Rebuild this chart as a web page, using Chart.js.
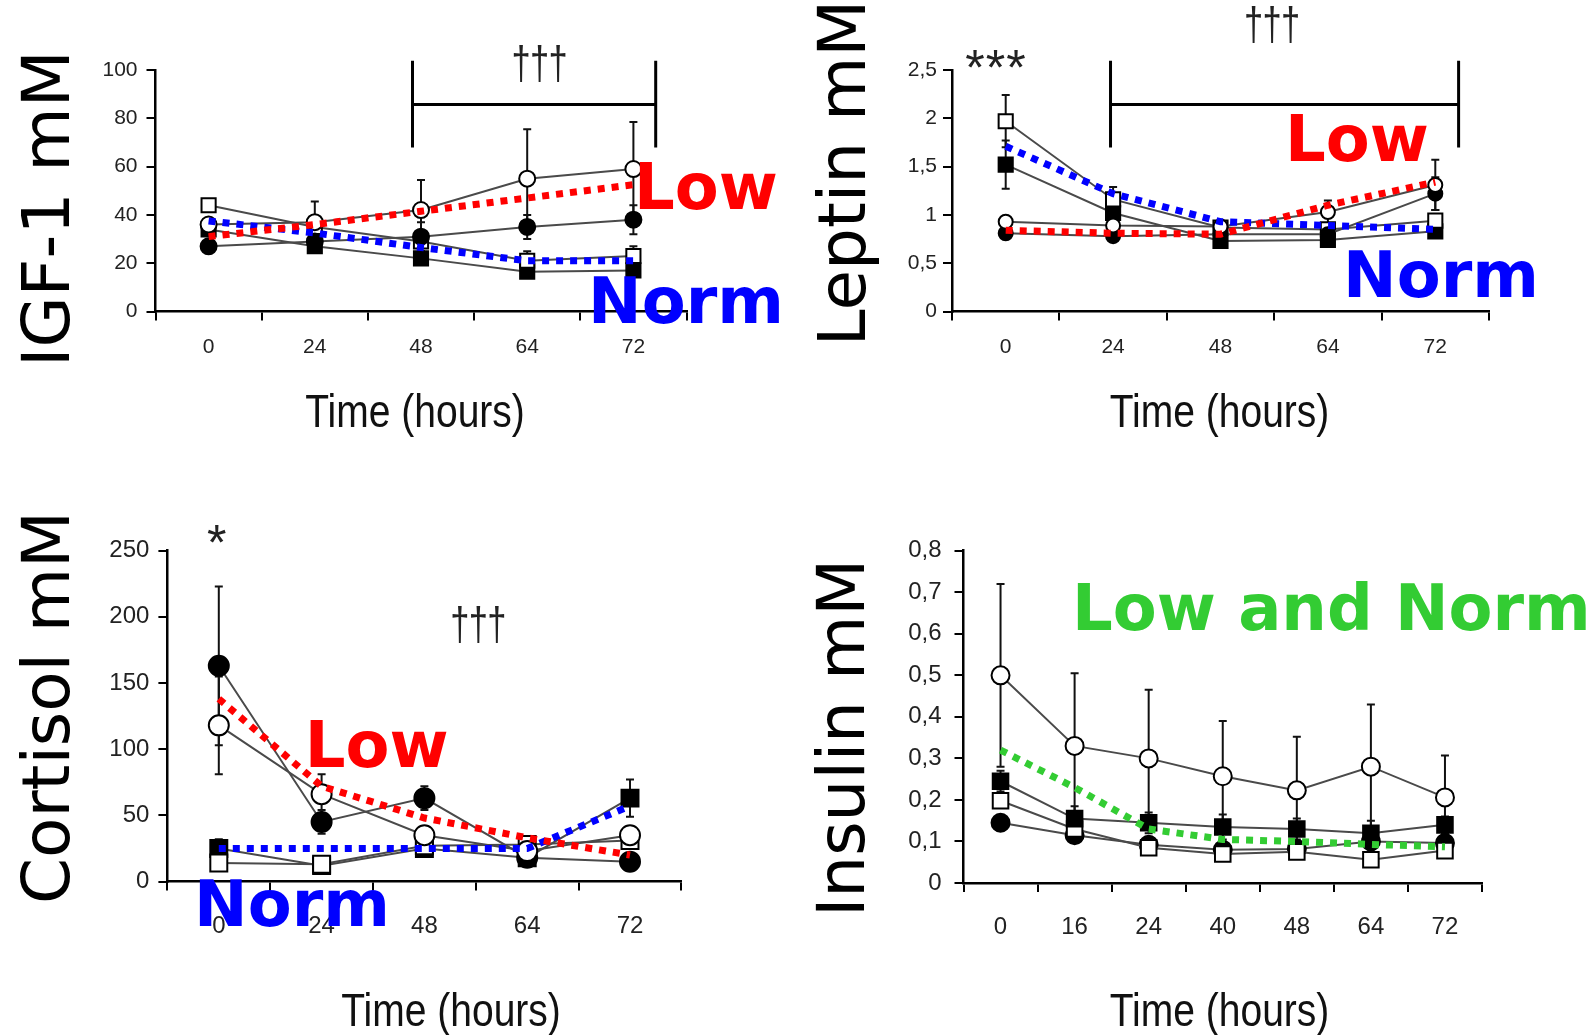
<!DOCTYPE html>
<html>
<head>
<meta charset="utf-8">
<script src="https://cdn.jsdelivr.net/npm/chart.js@4.4.1/dist/chart.umd.min.js"></script>
<style>
  html, body { margin: 0; padding: 0; background: #fff; }
  #page { position: relative; width: 1596px; height: 1035px; overflow: hidden; background: #fff; }
  #page canvas { position: absolute; left: 0; top: 0; }
</style>
</head>
<body>
<div id="page">
  <canvas id="igf" width="1596" height="1035"></canvas>
  <canvas id="leptin" width="1596" height="1035"></canvas>
  <canvas id="cortisol" width="1596" height="1035"></canvas>
  <canvas id="insulin" width="1596" height="1035"></canvas>
</div>
<script>
// valores (mM)
const hoursA = ['0', '24', '48', '64', '72'];
const hoursB = ['0', '16', '24', '40', '48', '64', '72'];

// IGF-1
const igfOpenCircle = [36, 37, 42, 55, 59];
const igfOpenCircleErr = [0, 8.5, 12.5, 20.5, 19.5];
const igfFilledCircle = [27, 29, 31, 35, 38];
const igfFilledCircleErr = [0, 0, 6, 5, 6];
const igfOpenSquare = [44, 35, 29, 21, 23];
const igfOpenSquareErr = [0, 0, 0, 4, 4];
const igfFilledSquare = [34, 27, 22, 16.5, 17];
const igfLow = [31, 36, 41.5, 47, 52.5];
const igfNorm = [37.5, 32.5, 26.5, 21, 21];

// Leptin
const lepOpenCircle = [0.93, 0.89, 0.88, 1.03, 1.31];
const lepOpenCircleErr = [0.05, 0, 0, 0.12, 0.26];
const lepFilledCircle = [0.81, 0.78, 0.80, 0.80, 1.22];
const lepFilledCircleErr = [0, 0, 0, 0, 0.17];
const lepOpenSquare = [1.97, 1.16, 0.87, 0.85, 0.94];
const lepOpenSquareErr = [0.27, 0.13, 0, 0, 0];
const lepFilledSquare = [1.52, 1.02, 0.73, 0.74, 0.83];
const lepFilledSquareErr = [0.25, 0.05, 0, 0, 0];
const lepLow = [0.84, 0.81, 0.80, 1.10, 1.34];
const lepNorm = [1.71, 1.22, 0.93, 0.89, 0.85];

// Cortisol
const corOpenCircle = [118, 66, 35, 23, 35];
const corOpenCircleErr = [37, 15, 0, 0, 0];
const corFilledCircle = [163, 45, 63, 18, 15];
const corFilledCircleErr = [60, 9, 9, 0, 0];
const corOpenSquare = [14, 13, 27, 28, 31];
const corFilledSquare = [25, 12, 25, 18, 63];
const corFilledSquareErr = [7, 0, 0, 0, 14];
const corLow = [138, 72, 48, 33, 20];
const corNorm = [25, 25, 25, 25, 57];

// Insulin
const insOpenCircle = [0.50, 0.33, 0.30, 0.257, 0.223, 0.28, 0.206];
const insOpenCircleErr = [0.22, 0.175, 0.165, 0.133, 0.129, 0.15, 0.101];
const insFilledSquare = [0.245, 0.155, 0.145, 0.135, 0.13, 0.12, 0.14];
const insFilledSquareErr = [0.025, 0.03, 0.025, 0.03, 0.025, 0.03, 0.02];
const insOpenSquare = [0.198, 0.13, 0.085, 0.07, 0.075, 0.056, 0.078];
const insFilledCircle = [0.145, 0.115, 0.092, 0.08, 0.082, 0.10, 0.096];
const insBoth = [0.32, 0.23, 0.13, 0.105, 0.10, 0.093, 0.087];

const RED = '#ff0000', BLUE = '#0000ff', GREEN = '#33cc33';
const SANS = "'Liberation Sans', Arial, sans-serif";
const Y_W = 120, X_H = 60;

function series(data, errors, filled, shape, radius) {
    return {
        data: data,
        errors: errors,
        borderColor: '#4a4a4a',
        borderWidth: 2,
        pointStyle: shape,
        pointRadius: radius,
        pointBackgroundColor: filled ? '#000' : '#fff',
        pointBorderColor: '#000',
        pointBorderWidth: 2,
        order: 2
    };
}

function trend(data, color) {
    return {
        data: data,
        borderColor: color,
        borderWidth: 7,
        borderDash: [7, 7],
        pointRadius: 0,
        order: 0
    };
}

// barras de erro desenhadas com as escalas do gráfico
const errorBars = {
    id: 'errorBars',
    beforeDatasetsDraw(chart) {
        const ctx = chart.ctx, y = chart.scales.y;
        ctx.save();
        ctx.strokeStyle = '#111';
        ctx.lineWidth = 2;
        chart.data.datasets.forEach((ds, i) => {
            if (!ds.errors) return;
            chart.getDatasetMeta(i).data.forEach((pt, j) => {
                const e = ds.errors[j];
                if (!e) return;
                const top = y.getPixelForValue(ds.data[j] + e);
                const bot = y.getPixelForValue(ds.data[j] - e);
                ctx.beginPath();
                ctx.moveTo(pt.x, top); ctx.lineTo(pt.x, bot);
                ctx.moveTo(pt.x - 4, top); ctx.lineTo(pt.x + 4, top);
                ctx.moveTo(pt.x - 4, bot); ctx.lineTo(pt.x + 4, bot);
                ctx.stroke();
            });
        });
        ctx.restore();
    }
};

// texto condensado (a fonte original é estreita)
function narrowText(ctx, text, x, y, squeeze) {
    ctx.save();
    ctx.translate(x, y);
    ctx.scale(squeeze, 1);
    ctx.fillText(text, 0, 0);
    ctx.restore();
}

// títulos, rótulos Low/Norm, colchetes e símbolos
function notes(cfg) {
    return {
        id: 'notes',
        afterDraw(chart) {
            const ctx = chart.ctx, x = chart.scales.x, y = chart.scales.y;
            ctx.save();
            // título do eixo y (rotacionado)
            ctx.fillStyle = '#000';
            ctx.font = '66px "DejaVu Sans"';
            ctx.textAlign = 'center';
            ctx.textBaseline = 'alphabetic';
            ctx.save();
            ctx.translate(cfg.yTitle[1], cfg.yTitle[2]);
            ctx.rotate(-Math.PI / 2);
            ctx.fillText(cfg.yTitle[0], 0, 0);
            ctx.restore();
            // título do eixo x
            ctx.font = '47px ' + SANS;
            ctx.fillStyle = '#111';
            narrowText(ctx, 'Time (hours)', cfg.xTitle[0], cfg.xTitle[1], 0.83);
            // colchete
            if (cfg.bracket) {
                const b = cfg.bracket;
                const x0 = x.getPixelForValue(b[0]), x1 = x.getPixelForValue(b[1]);
                const yTop = y.getPixelForValue(b[2]), yBot = y.getPixelForValue(b[3]), yBar = y.getPixelForValue(b[4]);
                ctx.strokeStyle = '#000';
                ctx.lineWidth = 3;
                ctx.beginPath();
                ctx.moveTo(x0, yTop); ctx.lineTo(x0, yBot);
                ctx.moveTo(x1, yTop); ctx.lineTo(x1, yBot);
                ctx.moveTo(x0, yBar); ctx.lineTo(x1, yBar);
                ctx.stroke();
            }
            // símbolos † e *
            (cfg.marks || []).forEach(m => {
                ctx.font = m.size + 'px ' + SANS;
                ctx.fillStyle = '#222';
                for (let k = 0; k < m.count; k++) {
                    narrowText(ctx, m.ch, m.x + (k - (m.count - 1) / 2) * m.gap, m.y, m.squeeze);
                }
            });
            // Low / Norm
            ctx.font = 'bold 64px "DejaVu Sans"';
            (cfg.labels || []).forEach(l => {
                ctx.fillStyle = l[1];
                ctx.fillText(l[0], l[2], l[3]);
            });
            ctx.restore();
        }
    };
}

function makeChart(id, cfg) {
    const tickFont = { family: SANS, size: cfg.fontSize };
    return new Chart(document.getElementById(id), {
        type: 'line',
        data: { labels: cfg.labels, datasets: cfg.datasets },
        options: {
            responsive: false,
            animation: false,
            events: [],
            layout: {
                padding: {
                    left: cfg.area[0] - Y_W,
                    top: cfg.area[1],
                    right: 1596 - cfg.area[2],
                    bottom: 1035 - cfg.area[3] - X_H
                }
            },
            plugins: { legend: { display: false }, tooltip: { enabled: false } },
            scales: {
                x: {
                    offset: true,
                    grid: { offset: true, drawOnChartArea: false, tickLength: 9, color: '#000', lineWidth: 2 },
                    border: { color: '#000', width: 2.5 },
                    ticks: { font: tickFont, color: '#222', padding: cfg.xPad, autoSkip: false, maxRotation: 0 },
                    afterFit: s => { s.height = X_H; }
                },
                y: {
                    min: 0,
                    max: cfg.yMax,
                    grid: { drawOnChartArea: false, tickLength: 9, color: '#000', lineWidth: 2 },
                    border: { color: '#000', width: 2.5 },
                    ticks: {
                        stepSize: cfg.yStep,
                        font: tickFont,
                        color: '#222',
                        padding: cfg.yPad,
                        callback: v => v === 0 ? '0' : (Number.isInteger(v) ? String(v) : v.toFixed(1).replace('.', ',').replace(',0', ''))
                    },
                    afterFit: s => { s.width = Y_W; }
                }
            }
        },
        plugins: [errorBars, notes(cfg.notes)]
    });
}

makeChart('igf', {
    labels: hoursA,
    area: [155.5, 70, 686.5, 311.5],
    yMax: 100, yStep: 20, fontSize: 21, xPad: 14, yPad: 9,
    datasets: [
        series(igfOpenCircle, igfOpenCircleErr, false, 'circle', 8),
        series(igfFilledCircle, igfFilledCircleErr, true, 'circle', 8),
        series(igfOpenSquare, igfOpenSquareErr, false, 'rect', 10),
        series(igfFilledSquare, null, true, 'rect', 10),
        trend(igfLow, RED),
        trend(igfNorm, BLUE)
    ],
    notes: {
        yTitle: ['IGF-1 mM', 69, 208.7],
        xTitle: [415, 427],
        bracket: [1.92, 4.21, 103.8, 67.9, 85.7],
        marks: [{ ch: '\u2020', count: 3, gap: 18.5, x: 539.5, y: 79, size: 46, squeeze: 0.75 }],
        labels: [['Low', RED, 706, 208.7], ['Norm', BLUE, 686, 323]]
    }
});

makeChart('leptin', {
    labels: hoursA,
    area: [952, 70, 1489, 311.5],
    yMax: 2.5, yStep: 0.5, fontSize: 21, xPad: 14, yPad: 6,
    datasets: [
        series(lepOpenCircle, lepOpenCircleErr, false, 'circle', 7),
        series(lepFilledCircle, lepFilledCircleErr, true, 'circle', 7),
        series(lepOpenSquare, lepOpenSquareErr, false, 'rect', 10),
        series(lepFilledSquare, lepFilledSquareErr, true, 'rect', 10),
        trend(lepLow, RED),
        trend(lepNorm, BLUE)
    ],
    notes: {
        yTitle: ['Leptin mM', 865, 173],
        xTitle: [1219.5, 427],
        bracket: [0.976, 4.217, 2.595, 1.698, 2.142],
        marks: [
            { ch: '\u2020', count: 3, gap: 18.5, x: 1272, y: 40, size: 46, squeeze: 0.75 },
            { ch: '*', count: 3, gap: 20.5, x: 995.5, y: 85, size: 50, squeeze: 1 }
        ],
        labels: [['Low', RED, 1357, 161], ['Norm', BLUE, 1441, 297]]
    }
});

makeChart('cortisol', {
    labels: hoursA,
    area: [167.4, 550.7, 681.4, 881.5],
    yMax: 250, yStep: 50, fontSize: 24, xPad: 21, yPad: 9,
    datasets: [
        series(corOpenCircle, corOpenCircleErr, false, 'circle', 10),
        series(corFilledCircle, corFilledCircleErr, true, 'circle', 10),
        series(corOpenSquare, null, false, 'rect', 12),
        series(corFilledSquare, corFilledSquareErr, true, 'rect', 12),
        trend(corLow, RED),
        trend(corNorm, BLUE)
    ],
    notes: {
        yTitle: ['Cortisol mM', 69, 707.5],
        xTitle: [451, 1026],
        marks: [
            { ch: '\u2020', count: 3, gap: 18.5, x: 478.4, y: 640, size: 46, squeeze: 0.75 },
            { ch: '*', count: 1, gap: 0, x: 216.8, y: 560, size: 50, squeeze: 1 }
        ],
        labels: [['Low', RED, 376.6, 766.5], ['Norm', BLUE, 292, 926.3]]
    }
});

makeChart('insulin', {
    labels: hoursB,
    area: [963.5, 550.7, 1482, 883],
    yMax: 0.8, yStep: 0.1, fontSize: 24, xPad: 21, yPad: 13,
    datasets: [
        series(insOpenCircle, insOpenCircleErr, false, 'circle', 9),
        series(insFilledSquare, insFilledSquareErr, true, 'rect', 11),
        series(insOpenSquare, null, false, 'rect', 11),
        series(insFilledCircle, null, true, 'circle', 9),
        trend(insBoth, GREEN)
    ],
    notes: {
        yTitle: ['Insulin mM', 864, 738],
        xTitle: [1219.5, 1026],
        labels: [['Low and Norm', GREEN, 1331.4, 630.1]]
    }
});
</script>
</body>
</html>
